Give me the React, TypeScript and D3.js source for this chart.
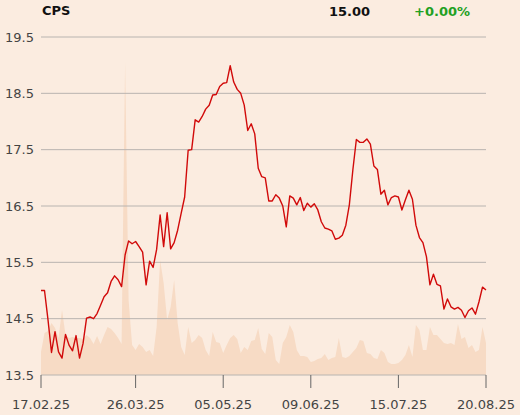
import React from "react";
import * as d3 from "d3";

const prices: number[] = [
  15.0, 15.0, 14.48, 13.9, 14.27, 13.91, 13.8, 14.22, 14.03, 13.93,
  14.2, 13.8, 14.06, 14.51, 14.53, 14.5, 14.59, 14.74, 14.89, 14.96,
  15.16, 15.26, 15.19, 15.07, 15.63, 15.88, 15.83, 15.87, 15.78, 15.68,
  15.1, 15.52, 15.41, 15.73, 16.34, 15.78, 16.38, 15.74, 15.85, 16.07,
  16.37, 16.66, 17.49, 17.5, 18.03, 17.99, 18.09, 18.22, 18.29, 18.47,
  18.48, 18.62, 18.68, 18.69, 18.99, 18.7, 18.57, 18.5, 18.29, 17.84,
  17.96, 17.78, 17.17, 17.02, 17.0, 16.59, 16.59, 16.7, 16.64, 16.5,
  16.13, 16.68, 16.64, 16.52, 16.65, 16.42, 16.55, 16.48, 16.54, 16.43,
  16.22, 16.11, 16.09, 16.06, 15.91, 15.93, 15.98, 16.16, 16.52, 17.14,
  17.68, 17.63, 17.63, 17.69, 17.6, 17.21, 17.15, 16.71, 16.78, 16.52,
  16.65, 16.68, 16.66, 16.43, 16.61, 16.78, 16.62, 16.16, 15.94, 15.85,
  15.6, 15.1, 15.29, 15.11, 15.08, 14.67, 14.85, 14.71, 14.67, 14.7,
  14.65, 14.52, 14.64, 14.69, 14.58, 14.8, 15.06, 15.01,
];

const volumes: number[] = [
  23, 42, 44, 52, 47, 37, 65, 40, 37, 38,
  37, 37, 36, 40, 37, 31, 39, 31, 40, 48,
  46, 42, 37, 31, 313, 75, 30, 25, 31, 28,
  23, 25, 19, 48, 115, 92, 55, 68, 95, 52,
  28, 20, 48, 32, 35, 40, 37, 25, 19, 43,
  33, 32, 22, 30, 37, 40, 36, 22, 28, 25,
  34, 35, 47, 26, 21, 42, 38, 15, 11, 32,
  38, 50, 43, 25, 19, 19, 18, 13, 14, 16,
  17, 21, 15, 17, 18, 37, 18, 17, 19, 23,
  27, 35, 34, 22, 21, 17, 16, 25, 22, 13,
  11, 11, 12, 15, 20, 30, 18, 50, 45, 25,
  25, 48, 40, 40, 36, 32, 31, 32, 30, 51,
  36, 38, 27, 30, 23, 25, 48, 32,
];

const tickIndices: number[] = [0, 27, 52, 77, 102, 127];
const tickLabels: string[] = ["17.02.25", "26.03.25", "05.05.25", "09.06.25", "15.07.25", "20.08.25"];
const yTicks: number[] = [13.5, 14.5, 15.5, 16.5, 17.5, 18.5, 19.5];

const title = "CPS";
const lastPrice = "15.00";
const change = "+0.00%";

const W = 520;
const H = 415;
const left = 41;
const right = 486;
const top = 37;
const bottom = 375;
const FONT = "'DejaVu Sans', sans-serif";

export default function App() {
  const x = d3.scaleLinear().domain([0, prices.length - 1]).range([left, right]);
  const y = d3.scaleLinear().domain([13.5, 19.5]).range([bottom, top]);
  const yv = d3.scaleLinear().domain([0, 313]).range([bottom, 61.7]);

  const line = d3
    .line<number>()
    .x((_, i) => x(i))
    .y((d) => y(d));
  const area = d3
    .area<number>()
    .x((_, i) => x(i))
    .y0(bottom)
    .y1((d) => yv(d));

  return (
    <svg
      width={W}
      height={H}
      style={{ position: "absolute", left: 0, top: 0, display: "block" }}
      fontFamily={FONT}
    >
      <rect x={0} y={0} width={W} height={H} fill="#fbece0" />
      <path d={area(volumes) || ""} fill="#f7dbc5" />
      {yTicks.map((t) => (
        <g key={t}>
          <line x1={left} x2={right} y1={y(t)} y2={y(t)} stroke="#b8b4b0" strokeWidth={1} />
          <text x={34} y={y(t)} dy="0.35em" textAnchor="end" fontSize={13} fill="#444">
            {t.toFixed(1)}
          </text>
        </g>
      ))}
      {tickIndices.map((ti, k) => (
        <g key={ti}>
          <line x1={x(ti)} x2={x(ti)} y1={bottom} y2={388} stroke="#666" strokeWidth={1} />
          <text x={x(ti)} y={409} textAnchor="middle" fontSize={13} fill="#444">
            {tickLabels[k]}
          </text>
        </g>
      ))}
      <path d={line(prices) || ""} fill="none" stroke="#d10a0a" strokeWidth={1.4} strokeLinejoin="round" />
      <text x={42} y={14.5} fontSize={13} fontWeight="bold" fill="#111">
        {title}
      </text>
      <text x={370} y={15.5} fontSize={13} fontWeight="bold" fill="#111" textAnchor="end">
        {lastPrice}
      </text>
      <text x={470} y={15.5} fontSize={13} fontWeight="bold" fill="#22a022" textAnchor="end">
        {change}
      </text>
    </svg>
  );
}
